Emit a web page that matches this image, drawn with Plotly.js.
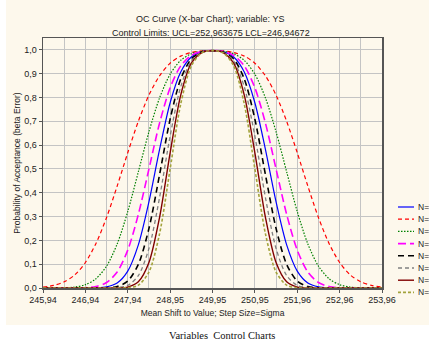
<!DOCTYPE html>
<html>
<head>
<meta charset="utf-8">
<script src="https://cdn.plot.ly/plotly-3.0.1.min.js"></script>
<style>html,body{margin:0;padding:0;background:#fff;}#chart{width:429px;height:351px;}</style>
</head>
<body>
<div id="chart"></div>
<script>
// Mean shift in steps of sigma (x positions of the read points)
const shift = [-4,-3.75,-3.5,-3.25,-3,-2.75,-2.5,-2.25,-2,-1.75,-1.5,-1.25,-1,-0.75,-0.5,-0.25,0,0.25,0.5,0.75,1,1.25,1.5,1.75,2,2.25,2.5,2.75,3,3.25,3.5,3.75,4];
const xTickVals = [-4,-3,-2,-1,0,1,2,3,4];
const xTickText = ["245,94","246,94","247,94","248,95","249,95","250,95","251,96","252,96","253,96"];
const yTickVals = [0,0.1,0.2,0.3,0.4,0.5,0.6,0.7,0.8,0.9,1.0];
const yTickText = ["0,0","0,1","0,2","0,3","0,4","0,5","0,6","0,7","0,8","0,9","1,0"];

const seriesNames = ["N=5","N=2","N=3","N=4","N=6","N=7","N=8","N=9"];
// legend labels as visible in the reference (cut at the image edge)
const legendLabels = ["N=","N=","N=","N=","N=","N=","N=","N="];
const betaN5 = [0,0,0,0,0,0.001,0.005,0.021,0.071,0.181,0.362,0.581,0.778,0.907,0.970,0.993,0.997,0.993,0.970,0.907,0.778,0.581,0.362,0.181,0.071,0.021,0.005,0.001,0,0,0,0,0];
const betaN2 = [0.004,0.011,0.026,0.055,0.107,0.187,0.296,0.428,0.568,0.700,0.810,0.891,0.944,0.974,0.989,0.996,0.997,0.996,0.989,0.974,0.944,0.891,0.810,0.700,0.568,0.428,0.296,0.187,0.107,0.055,0.026,0.011,0.004];
const betaN3 = [0,0,0.001,0.004,0.014,0.039,0.092,0.185,0.321,0.488,0.656,0.798,0.898,0.956,0.984,0.995,0.997,0.995,0.984,0.956,0.898,0.798,0.656,0.488,0.321,0.185,0.092,0.039,0.014,0.004,0.001,0,0];
const betaN4 = [0,0,0,0,0.001,0.006,0.023,0.067,0.159,0.309,0.500,0.692,0.841,0.933,0.977,0.994,0.997,0.994,0.977,0.933,0.841,0.692,0.500,0.309,0.159,0.067,0.023,0.006,0.001,0,0,0,0];
const betaN6 = [0,0,0,0,0,0,0.001,0.006,0.029,0.099,0.250,0.475,0.709,0.878,0.962,0.991,0.997,0.991,0.962,0.878,0.709,0.475,0.250,0.099,0.029,0.006,0.001,0,0,0,0,0,0];
const betaN7 = [0,0,0,0,0,0,0,0.002,0.011,0.052,0.166,0.379,0.638,0.845,0.953,0.990,0.997,0.990,0.953,0.845,0.638,0.379,0.166,0.052,0.011,0.002,0,0,0,0,0,0,0];
const betaN8 = [0,0,0,0,0,0,0,0,0.004,0.026,0.107,0.296,0.568,0.810,0.944,0.989,0.997,0.989,0.944,0.810,0.568,0.296,0.107,0.026,0.004,0,0,0,0,0,0,0,0];
const betaN9 = [0,0,0,0,0,0,0,0,0.001,0.012,0.067,0.227,0.500,0.773,0.933,0.988,0.997,0.988,0.933,0.773,0.500,0.227,0.067,0.012,0.001,0,0,0,0,0,0,0,0];
const seriesValues = [betaN5,betaN2,betaN3,betaN4,betaN6,betaN7,betaN8,betaN9];

// styles
const lineStyles = [
  {color:"#0000ff", width:1.2, dash:"solid"},
  {color:"#ff0000", width:1.2, dash:"4px,3px"},
  {color:"#008000", width:1.2, dash:"1.5px,1.5px"},
  {color:"#ff00ff", width:1.6, dash:"8px,4px"},
  {color:"#000000", width:1.6, dash:"6px,4px"},
  {color:"#808080", width:1.3, dash:"4px,3px"},
  {color:"#800000", width:1.4, dash:"solid"},
  {color:"#a3a33c", width:1.6, dash:"3px,2px"}
];

const FONT = "Liberation Sans, Arial, sans-serif";
const L = 43, R = 382, T = 38, B = 288, W = 429, H = 351;
const pw = R - L, ph = B - T;
const px2x = p => (p - L) / pw;
const py2y = p => (B - p) / ph;

const traces = seriesValues.map((vals, i) => ({
  type: "scatter", mode: "lines", x: shift, y: vals, name: seriesNames[i],
  line: Object.assign({shape: "spline", smoothing: 0.8}, lineStyles[i]),
  showlegend: false, hoverinfo: "skip"
}));

const shapes = [{
  type: "rect", xref: "paper", yref: "paper", layer: "below",
  x0: px2x(6), x1: px2x(440), y0: py2y(325), y1: py2y(-5),
  fillcolor: "#fdf8ec", line: {width: 0}
}];
const annotations = [
  {text: "OC Curve (X-bar Chart); variable: YS", xref: "paper", yref: "paper",
   x: px2x(210), y: py2y(12), showarrow: false, font: {family: FONT, size: 9, color: "#222"}},
  {text: "Control Limits: UCL=252,963675 LCL=246,94672", xref: "paper", yref: "paper",
   x: px2x(211), y: py2y(26), showarrow: false, font: {family: FONT, size: 9, color: "#222"}},
  {text: "Variables  Control Charts", xref: "paper", yref: "paper",
   x: px2x(277), y: py2y(343), showarrow: false,
   font: {family: "Liberation Serif, Times New Roman, serif", size: 10.5, color: "#111"}}
];
// manual legend, as in the reference
legendLabels.forEach((nm, i) => {
  const yy = 207 + i * 12.2;
  shapes.push({type: "line", xref: "paper", yref: "paper",
    x0: px2x(398), x1: px2x(414), y0: py2y(yy), y1: py2y(yy),
    line: {color: lineStyles[i].color, width: lineStyles[i].width, dash: lineStyles[i].dash}});
  annotations.push({text: nm, xref: "paper", yref: "paper", x: px2x(417), y: py2y(yy),
    xanchor: "left", yanchor: "middle", showarrow: false, borderpad: 0,
    font: {family: FONT, size: 8.5, color: "#222"}});
});

const layout = {
  width: W, height: H,
  margin: {l: L, r: W - R, t: T, b: H - B, pad: 0},
  paper_bgcolor: "#ffffff", plot_bgcolor: "#ffffff",
  showlegend: false,
  font: {family: FONT, size: 9, color: "#222"},
  xaxis: {
    range: [-4, 4], tickmode: "array", tickvals: xTickVals, ticktext: xTickText,
    showgrid: true, gridcolor: "#c4c4c4", gridwidth: 1,
    minor: {tickmode: "linear", tick0: 0, dtick: 0.5, showgrid: true, gridcolor: "#c4c4c4", gridwidth: 1},
    zeroline: false, showline: true, linecolor: "#555", linewidth: 1.5, mirror: true,
    ticks: "outside", ticklen: 3, tickcolor: "#555",
    tickfont: {family: FONT, size: 9, color: "#222"},
    title: {text: "Mean Shift to Value; Step Size=Sigma", standoff: 6, font: {family: FONT, size: 8.5, color: "#222"}},
    automargin: false, fixedrange: true
  },
  yaxis: {
    range: [0, 1.05], tickmode: "array", tickvals: yTickVals, ticktext: yTickText,
    showgrid: true, gridcolor: "#c4c4c4", gridwidth: 1,
    zeroline: false, showline: true, linecolor: "#555", linewidth: 1.5, mirror: true,
    ticks: "outside", ticklen: 3, tickcolor: "#555",
    tickfont: {family: FONT, size: 9, color: "#222"},
    title: {text: "Probability of Acceptance (beta Error)", standoff: 2, font: {family: FONT, size: 8.5, color: "#222"}},
    automargin: false, fixedrange: true
  },
  shapes: shapes,
  annotations: annotations
};

Plotly.newPlot("chart", traces, layout, {displayModeBar: false, staticPlot: true});
</script>
</body>
</html>
